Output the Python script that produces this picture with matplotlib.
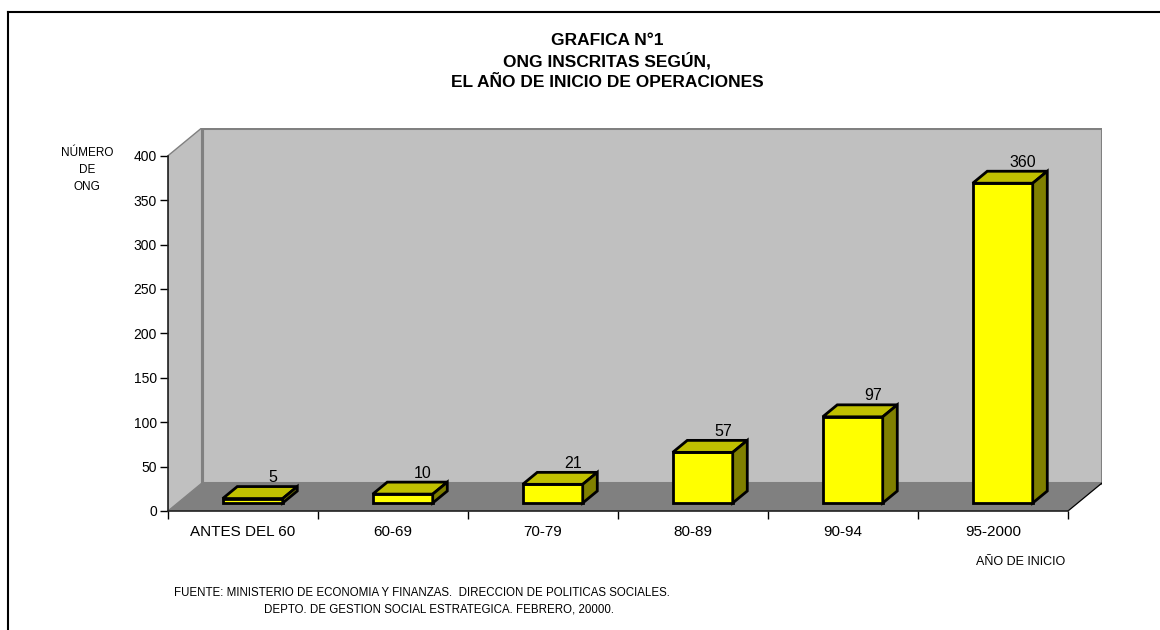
import matplotlib
matplotlib.use("Agg")
import matplotlib.pyplot as plt
from matplotlib.patches import Polygon
from matplotlib.lines import Line2D

plt.rcParams['font.family'] = ['Liberation Sans', 'DejaVu Sans']

# ---- data ----
categories = ["ANTES DEL 60", "60-69", "70-79", "80-89", "90-94", "95-2000"]
values = [5, 10, 21, 57, 97, 360]
y_ticks = [0, 50, 100, 150, 200, 250, 300, 350, 400]
title_lines = ["GRAFICA N°1", "ONG INSCRITAS SEGÚN,", "EL AÑO DE INICIO DE OPERACIONES"]
ylabel_lines = ["NÚMERO", "DE", "ONG"]
xlabel = "AÑO DE INICIO"
source_lines = ["FUENTE: MINISTERIO DE ECONOMIA Y FINANZAS.  DIRECCION DE POLITICAS SOCIALES.",
                "DEPTO. DE GESTION SOCIAL ESTRATEGICA. FEBRERO, 20000."]

W, H = 1160, 630
fig = plt.figure(figsize=(W / 100, H / 100), dpi=100)
fig.patch.set_facecolor("white")

# layout in pixels
x_left, x_right_back = 168, 1102
y_zero, y_top_back = 511, 127.7
y_400 = 155.7
depth_dx, depth_dy = 34, 28
cat_px = 150
unit_px = (y_zero - y_400) / 400.0

DX = depth_dx / cat_px
DY = depth_dy / unit_px
ymax = max(y_ticks)
n = len(categories)

ax = fig.add_axes([x_left / W, 1 - y_zero / H, (x_right_back - x_left) / W, (y_zero - y_top_back) / H])
ax.set_xlim(-0.5, n - 0.5 + DX)
ax.set_ylim(0, ymax + DY)
ax.patch.set_visible(False)

x0, x1 = -0.5, n - 0.5
wall = "#c0c0c0"
floor = "#808080"
edge_gray = "#808080"
# left side wall
ax.add_patch(Polygon([(x0, 0), (x0 + DX, DY), (x0 + DX, ymax + DY), (x0, ymax)],
                     closed=True, facecolor=wall, edgecolor=edge_gray, lw=1.0, zorder=1))
# back wall
ax.add_patch(Polygon([(x0 + DX, DY), (x1 + DX, DY), (x1 + DX, ymax + DY), (x0 + DX, ymax + DY)],
                     closed=True, facecolor=wall, edgecolor=edge_gray, lw=2.2, zorder=1))
# floor
ax.add_patch(Polygon([(x0, 0), (x1, 0), (x1 + DX, DY), (x0 + DX, DY)],
                     closed=True, facecolor=floor, edgecolor="none", zorder=2))
ax.plot([x1, x1 + DX], [0, DY], color="black", lw=0.9, zorder=3)
ax.plot([x0 + DX, x0 + DX], [DY, ymax + DY], color=edge_gray, lw=2.2, zorder=2)

# bars
f1, f2 = 0.286, 0.714
bw = 0.4
front_x = [i + f1 * DX for i in range(n)]
bottom = f1 * DY
ax.bar(front_x, values, width=bw, bottom=bottom, color="#ffff00", edgecolor="black",
       linewidth=2.0, zorder=5)
d = f2 - f1
for i, v in enumerate(values):
    xl = front_x[i] - bw / 2
    xr = front_x[i] + bw / 2
    top = bottom + v
    ax.add_patch(Polygon([(xl, top), (xr, top), (xr + d * DX, top + d * DY), (xl + d * DX, top + d * DY)],
                         closed=True, facecolor="#c0c000", edgecolor="black", lw=2.0, zorder=6,
                         joinstyle="miter"))
    ax.add_patch(Polygon([(xr, bottom), (xr + d * DX, bottom + d * DY), (xr + d * DX, top + d * DY), (xr, top)],
                         closed=True, facecolor="#808000", edgecolor="black", lw=2.0, zorder=6,
                         joinstyle="miter"))
    ax.text(i + 30 / cat_px, f2 * DY + v + 9 / unit_px, str(v), ha="center", va="center",
            fontsize=11.5, color="black", zorder=7)

# axes
for s in ["top", "right"]:
    ax.spines[s].set_visible(False)
ax.spines["left"].set_bounds(0, ymax)
ax.spines["bottom"].set_bounds(x0, x1)
ax.spines["left"].set_linewidth(1.2)
ax.spines["bottom"].set_linewidth(1.2)
ax.spines["left"].set_color("#202020")
ax.spines["bottom"].set_color("#202020")
ax.spines["left"].set_zorder(4)
ax.spines["bottom"].set_zorder(4)
ax.set_yticks(y_ticks)
ax.set_yticklabels([str(t) for t in y_ticks], fontsize=10)
ax.tick_params(axis="y", length=6, width=1.0, pad=2, direction="out")
ax.set_xticks([x0 + k for k in range(n + 1)])
ax.set_xticklabels([""] * (n + 1))
ax.set_xticks(list(range(n)), minor=True)
ax.set_xticklabels(categories, minor=True, fontsize=11)
ax.tick_params(axis="x", which="major", length=6, width=1.0, direction="out")
ax.tick_params(axis="x", which="minor", length=0, pad=10)

# titles & annotations
title_y = [40.3, 61.2, 82.3]
for t, yy in zip(title_lines, title_y):
    fig.text(607 / W, 1 - yy / H, t, ha="center", va="center", fontsize=12.5, fontweight="bold")
for t, yy in zip(ylabel_lines, [153, 170, 187]):
    fig.text(87 / W, 1 - yy / H, t, ha="center", va="center", fontsize=8.5)
fig.text(1021 / W, 1 - 562 / H, xlabel, ha="center", va="center", fontsize=9)
fig.text(174 / W, 1 - 593 / H, source_lines[0], ha="left", va="center", fontsize=8.3)
fig.text(439 / W, 1 - 610 / H, source_lines[1], ha="center", va="center", fontsize=8.3)

# outer frame (left and top)
fig.add_artist(Line2D([8 / W, 8 / W], [0, 1 - 12 / H], color="black", lw=1.5))
fig.add_artist(Line2D([8 / W, 1], [1 - 12 / H, 1 - 12 / H], color="black", lw=1.5))

fig.savefig("out.png", dpi=100)
